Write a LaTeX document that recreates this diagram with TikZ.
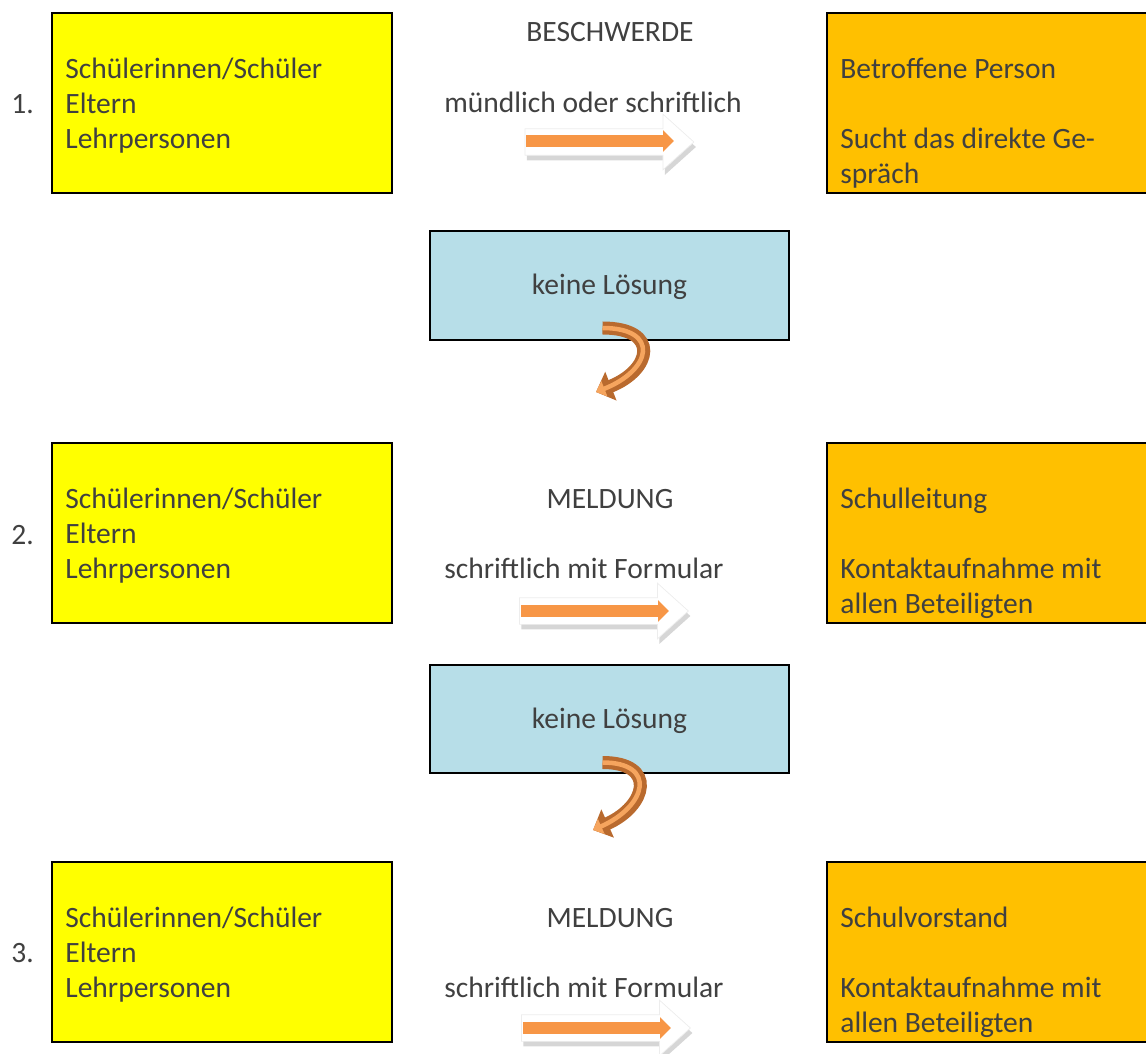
\documentclass[tikz,border=0pt]{standalone}
\usepackage{fontspec}
\setmainfont{Carlito}
\usetikzlibrary{arrows.meta,shapes.arrows,shadows,positioning}
\definecolor{textgray}{HTML}{404040}
\definecolor{boxyellow}{HTML}{FFFF00}
\definecolor{boxorange}{HTML}{FFC000}
\definecolor{boxblue}{HTML}{B7DEE8}
\definecolor{barorange}{HTML}{F79646}
\definecolor{turnbrown}{HTML}{B96A2E}
\definecolor{turnlight}{HTML}{F6A55E}

\begin{document}
\begin{tikzpicture}[x=0.02cm,y=-0.02cm]
\tikzset{every node/.style={text=textgray,font=\fontsize{16.8}{19.9}\selectfont}}
\tikzset{whobox/.style={draw,line width=0.04cm,fill=boxyellow,minimum width=6.8cm,minimum height=3.6cm}}
\tikzset{wembox/.style={draw,line width=0.04cm,fill=boxorange,minimum width=6.8cm,minimum height=3.6cm}}
\tikzset{stuckbox/.style={draw,line width=0.04cm,fill=boxblue,minimum width=7.18cm,minimum height=2.18cm,text depth=0.12em}}
\tikzset{boxtext/.style={align=left,inner sep=0pt}}
\tikzset{blockarrow/.style={single arrow,fill=white,draw=black!7,line width=0.4pt,inner xsep=0pt,inner ysep=0.26cm,minimum height=3.38cm,
  single arrow head extend=0.29cm,single arrow tip angle=84,single arrow head indent=0pt,
  drop shadow={shadow xshift=0.04cm,shadow yshift=-0.1cm,opacity=0.16,fill=black,draw=none}}}
\tikzset{bar/.style={barorange,line width=0.24cm,-{Triangle[length=0.22cm,width=0.42cm]}}}
\tikzset{turn/.style={turnbrown,line width=0.26cm,-{Triangle[length=0.32cm,width=0.6cm]},
  postaction={draw=turnlight,line width=0.09cm,-{Triangle[length=0.18cm,width=0.32cm]}}}}

\useasboundingbox (0,0) rectangle (1146,1054);
\clip (0,0) rectangle (1146,1054);

% step 1
\node[whobox] (who1) at (222,103) {};
\node[wembox] (wem1) at (997,103) {};
\node[boxtext, below right=0.92cm and 0.28cm of who1.north west] (who1t) {Schülerinnen/Schüler\\Eltern\\Lehrpersonen};
\node[boxtext, below right=0.92cm and 0.28cm of wem1.north west] (wem1t) {Betroffene Person\\[19.9pt]Sucht das direkte Ge-\\spräch};
\node[anchor=base west,inner sep=0pt] (n1) at (11,114) {1.};
\node[anchor=base,inner sep=0pt] (kind1) at (610,42) {BESCHWERDE};
\node[anchor=base,inner sep=0pt] (how1) at (593,113) {mündlich oder schriftlich};
\node[blockarrow] (go1) at (602,142) {};
\coordinate (go1s) at (526,141);
\coordinate (go1e) at (674,141);
\draw[bar] (go1s) -- (go1e);

\node[stuckbox] (stuck1) at (609.5,285.5) {keine Lösung};
\coordinate (down1) at (596,392);
\draw[turn] ([xshift=-0.14cm,yshift=0.26cm]stuck1.south) .. controls +(58,0) and +(56,-22) .. (down1);

% step 2
\node[whobox] (who2) at (222,533) {};
\node[wembox] (wem2) at (997,533) {};
\node[boxtext, below right=0.92cm and 0.28cm of who2.north west] (who2t) {Schülerinnen/Schüler\\Eltern\\Lehrpersonen};
\node[boxtext, below right=0.92cm and 0.28cm of wem2.north west] (wem2t) {Schulleitung\\[19.9pt]Kontaktaufnahme mit\\allen Beteiligten};
\node[anchor=base west,inner sep=0pt] (n2) at (11,544) {2.};
\node[anchor=base,inner sep=0pt] (kind2) at (610,508) {MELDUNG};
\node[anchor=base,inner sep=0pt] (how2) at (584,578) {schriftlich mit Formular};
\node[blockarrow] (go2) at (596.5,611) {};
\coordinate (go2s) at (521,611);
\coordinate (go2e) at (669,611);
\draw[bar] (go2s) -- (go2e);

\node[stuckbox] (stuck2) at (609.5,719) {keine Lösung};
\coordinate (down2) at (593,830);
\draw[turn] ([xshift=-0.14cm,yshift=0.24cm]stuck2.south) .. controls +(55,0) and +(54,-24) .. (down2);

% step 3
\node[whobox] (who3) at (222,952) {};
\node[wembox] (wem3) at (997,952) {};
\node[boxtext, below right=0.92cm and 0.28cm of who3.north west] (who3t) {Schülerinnen/Schüler\\Eltern\\Lehrpersonen};
\node[boxtext, below right=0.92cm and 0.28cm of wem3.north west] (wem3t) {Schulvorstand\\[19.9pt]Kontaktaufnahme mit\\allen Beteiligten};
\node[anchor=base west,inner sep=0pt] (n3) at (11,962) {3.};
\node[anchor=base,inner sep=0pt] (kind3) at (610,927) {MELDUNG};
\node[anchor=base,inner sep=0pt] (how3) at (584,997) {schriftlich mit Formular};
\node[blockarrow] (go3) at (598.5,1028) {};
\coordinate (go3s) at (523,1028);
\coordinate (go3e) at (671,1028);
\draw[bar] (go3s) -- (go3e);

\end{tikzpicture}
\end{document}
